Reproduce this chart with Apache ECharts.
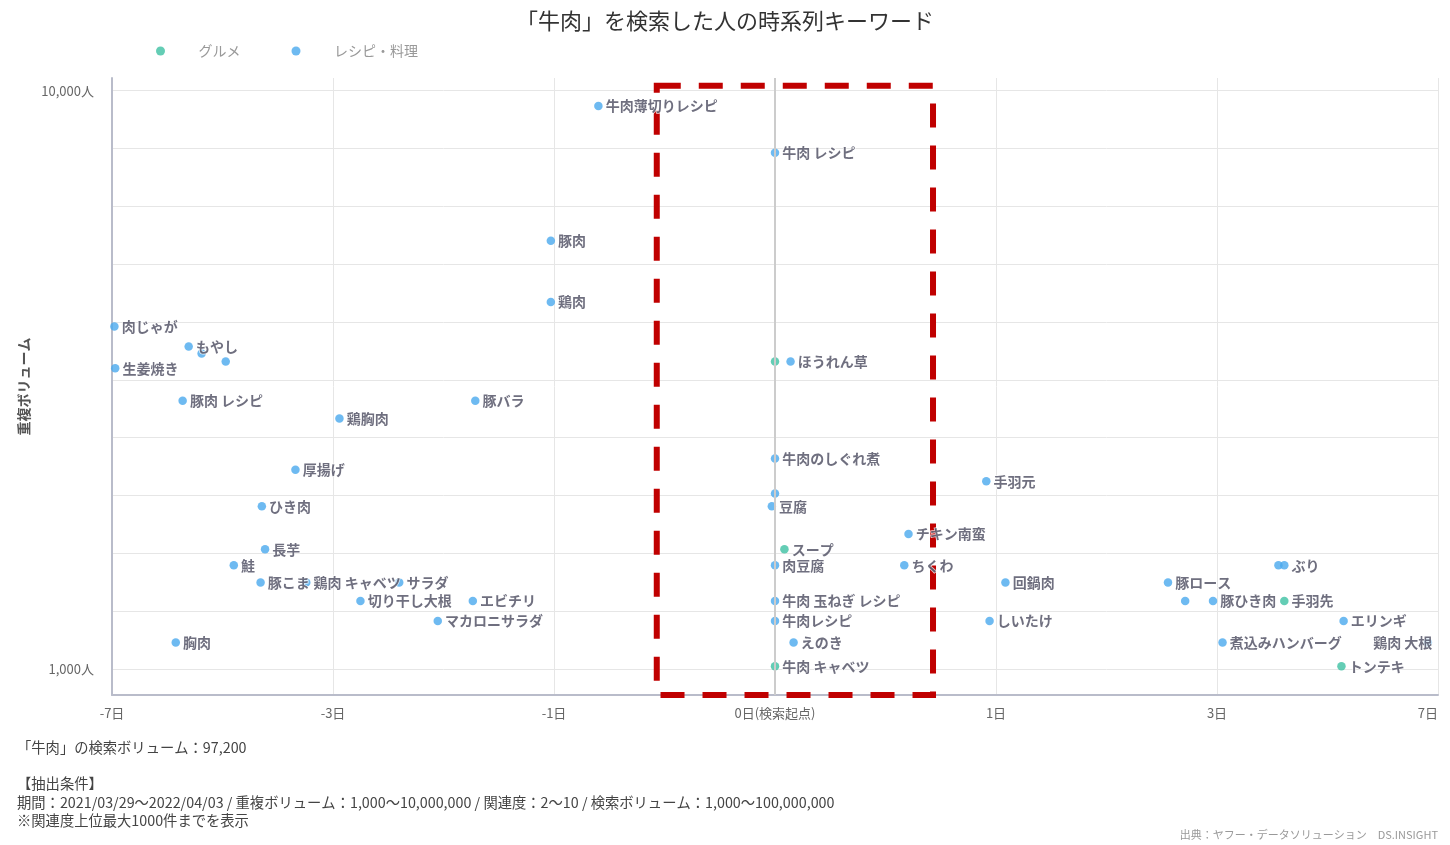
<!DOCTYPE html>
<html>
<head>
<meta charset="utf-8">
<script src="https://cdn.jsdelivr.net/npm/echarts@6/dist/echarts.min.js"></script>
<style>
html,body{margin:0;padding:0;background:#fff;}
#chart{width:1450px;height:845px;}
</style>
</head>
<body>
<div id="chart"></div>
<script>
// ---- data (days from search start, overlap users) ----
const xTickLabels = ['-7日', '-3日', '-1日', '0日(検索起点)', '1日', '3日', '7日'];
const yGridValues = [3, 3.1, 3.2, 3.3, 3.4, 3.5, 3.6, 3.7, 3.8, 3.9, 4];
const yLabelValues = [3, 4];

const seriesNames = ['グルメ', 'レシピ・料理'];

const gourmetNames = ['', 'スープ', '手羽先', '牛肉 キャベツ', 'トンテキ'];
const gourmetDays  = [0, 0.03, 3.94, 0, 4.91];
const gourmetUsers = [3400, 1610, 1310, 1010, 1010];

const recipeNames = ['牛肉薄切りレシピ', '牛肉 レシピ', '豚肉', '鶏肉', '肉じゃが', 'もやし', '', '', '生姜焼き', 'ほうれん草',
  '豚肉 レシピ', '豚バラ', '鶏胸肉', '厚揚げ', 'ひき肉', '長芋', '鮭', '豚こま', '鶏肉 キャベツ', 'サラダ',
  '切り干し大根', 'エビチリ', 'マカロニサラダ', '胸肉', '牛肉のしぐれ煮', '', '豆腐', '肉豆腐', '牛肉 玉ねぎ レシピ', '牛肉レシピ',
  'えのき', '手羽元', 'チキン南蛮', 'ちくわ', '回鍋肉', '豚ロース', '', '豚ひき肉', '', 'ぶり',
  'しいたけ', 'エリンギ', '煮込みハンバーグ', '鶏肉 大根'];
const recipeDays = [-0.74, 0, -1.02, -1.02, -6.94, -5.29, -5.04, -4.60, -6.92, 0.05,
  -5.41, -1.56, -2.92, -3.50, -4.00, -3.95, -4.46, -4.02, -3.35, -2.25,
  -2.67, -1.58, -1.88, -5.55, 0, 0, -0.01, 0, 0, 0,
  0.06, 0.94, 0.52, 0.50, 1.06, 2.43, 2.62, 2.95, 3.85, 3.94,
  0.96, 4.95, 3.07, 6.75];
const recipeUsers = [9410, 7810, 5500, 4310, 3910, 3610, 3510, 3400, 3310, 3400,
  2910, 2910, 2710, 2210, 1910, 1610, 1510, 1410, 1410, 1410,
  1310, 1310, 1210, 1110, 2310, 2010, 1910, 1510, 1310, 1210,
  1110, 2110, 1710, 1510, 1410, 1410, 1310, 1310, 1510, 1510,
  1210, 1210, 1110, 1110];

const noteLines = [
  '「牛肉」の検索ボリューム：97,200',
  '【抽出条件】',
  '期間：2021/03/29～2022/04/03 / 重複ボリューム：1,000～10,000,000 / 関連度：2～10 / 検索ボリューム：1,000～100,000,000',
  '※関連度上位最大1000件までを表示'
];
const sourceText = '出典：ヤフー・データソリューション　DS.INSIGHT';

// ---- axis transforms (symmetric log2 days, log10 users) ----
function tx(d) { return Math.sign(d) * Math.log2(Math.abs(d) + 1); }
function ty(u) { return Math.log10(u); }

const FONT = '"Noto Sans CJK JP", "Noto Sans", sans-serif';
const BLUE = '#4aa9ee';
const GREEN = '#3dc0a2';

function buildData(names, days, users) {
  return names.map(function (n, i) {
    const item = { name: n, value: [tx(days[i]), ty(users[i])] };
    if (n === '') item.label = { show: false };
    if (n === '鶏肉 大根') item.label = { offset: [-62, 0] };
    return item;
  });
}

const labelStyle = {
  show: true,
  position: 'right',
  distance: 3,
  formatter: '{b}',
  fontFamily: FONT,
  fontSize: 14,
  fontWeight: 'bold',
  color: '#4b4b5f',
  textBorderColor: '#ffffff',
  textBorderWidth: 1.5
};

const chart = echarts.init(document.getElementById('chart'), null, { renderer: 'canvas' });
const option = {
  backgroundColor: '#ffffff',
  animation: false,
  textStyle: { fontFamily: FONT },
  title: {
    text: '「牛肉」を検索した人の時系列キーワード',
    left: 'center',
    top: 5,
    textStyle: { fontFamily: FONT, fontSize: 22, fontWeight: 'normal', color: '#333333' }
  },
  legend: {
    left: 151,
    top: 39,
    icon: 'circle',
    itemWidth: 66,
    itemHeight: 9,
    itemGap: 51,
    data: seriesNames,
    textStyle: { fontFamily: FONT, fontSize: 14, color: '#999999' }
  },
  grid: { left: 112, right: 12, top: 78, bottom: 150 },
  xAxis: {
    type: 'value',
    min: -3,
    max: 3,
    interval: 1,
    axisLine: { show: true, onZero: false, lineStyle: { color: '#b9bcca', width: 2 } },
    axisTick: { show: false },
    axisLabel: {
      margin: 12,
      fontFamily: FONT,
      fontSize: 13,
      color: '#666666',
      alignMaxLabel: 'right',
      formatter: function (v) { return xTickLabels[Math.round(v) + 3]; }
    },
    splitLine: { show: true, lineStyle: { color: '#e6e6e6', width: 1 } }
  },
  yAxis: {
    type: 'value',
    min: 2.9547,
    max: 4.022,
    name: '重複ボリューム',
    nameLocation: 'middle',
    nameRotate: 90,
    nameGap: 78,
    nameTextStyle: { fontFamily: FONT, fontSize: 14, fontWeight: 'bold', color: '#555555' },
    axisLine: { show: true, onZero: false, lineStyle: { color: '#b9bcca', width: 2 } },
    axisTick: { show: false, customValues: yGridValues },
    axisLabel: {
      customValues: yLabelValues,
      margin: 18,
      fontFamily: FONT,
      fontSize: 13,
      color: '#666666',
      formatter: function (v) { return Math.round(Math.pow(10, v)).toLocaleString('en-US') + '人'; }
    },
    splitLine: { show: true, lineStyle: { color: '#e6e6e6', width: 1 } }
  },
  series: [
    {
      name: 'zero',
      type: 'scatter',
      data: [],
      z: 1,
      clip: false,
      silent: true,
      markLine: {
        silent: true,
        symbol: ['none', 'none'],
        label: { show: false },
        lineStyle: { color: '#cccccc', width: 2, type: 'solid' },
        data: [{ xAxis: 0 }]
      }
    },
    {
      name: seriesNames[0],
      type: 'scatter',
      z: 3,
      symbol: 'circle',
      symbolSize: 8.5,
      itemStyle: { color: GREEN },
      label: labelStyle,
      data: buildData(gourmetNames, gourmetDays, gourmetUsers)
    },
    {
      name: seriesNames[1],
      type: 'scatter',
      z: 3,
      symbol: 'circle',
      symbolSize: 8.5,
      itemStyle: { color: BLUE },
      label: labelStyle,
      data: buildData(recipeNames, recipeDays, recipeUsers)
    },
    {
      name: 'highlight',
      type: 'scatter',
      data: [],
      z: 10,
      clip: false,
      silent: true,
      markArea: {
        silent: true,
        label: { show: false },
        itemStyle: {
          color: 'rgba(0,0,0,0)',
          borderColor: '#c00000',
          borderWidth: 6,
          borderType: [24, 18]
        },
        data: [[{ xAxis: -0.535, yAxis: 4.0086 }, { xAxis: 0.715, yAxis: 2.9547 }]]
      }
    }
  ],
  graphic: [
    { type: 'text', left: 17, top: 740, style: { text: noteLines[0], font: '14.3px ' + FONT, fill: '#444444' } },
    { type: 'text', left: 17, top: 776, style: { text: noteLines[1], font: '14.3px ' + FONT, fill: '#444444' } },
    { type: 'text', left: 17, top: 795, style: { text: noteLines[2], font: '14.3px ' + FONT, fill: '#444444' } },
    { type: 'text', left: 17, top: 813, style: { text: noteLines[3], font: '14.3px ' + FONT, fill: '#444444' } },
    { type: 'text', right: 12, top: 829, style: { text: sourceText, font: '11px ' + FONT, fill: '#999999' } }
  ]
};
chart.setOption(option);
</script>
</body>
</html>
